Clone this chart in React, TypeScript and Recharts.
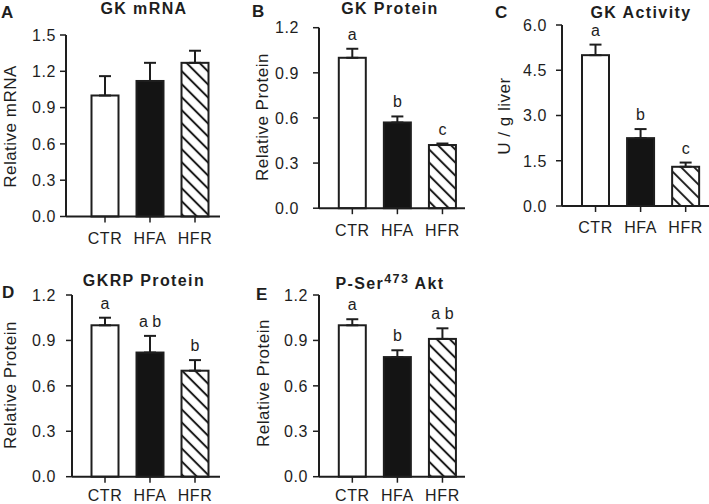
import React from "react";
import { BarChart, Bar, XAxis, YAxis, ErrorBar } from "recharts";

const categories = ["CTR", "HFA", "HFR"];

const gkMrna = [1.0, 1.12, 1.27];
const gkMrnaErr = [0.16, 0.15, 0.1];

const gkProtein = [1.0, 0.57, 0.42];
const gkProteinErr = [0.06, 0.04, 0.01];
const gkProteinLetters = ["a", "b", "c"];

const gkActivity = [5.0, 2.25, 1.3];
const gkActivityErr = [0.35, 0.3, 0.14];
const gkActivityLetters = ["a", "b", "c"];

const gkrpProtein = [1.0, 0.82, 0.7];
const gkrpProteinErr = [0.05, 0.11, 0.07];
const gkrpLetters = ["a", "a b", "b"];

const aktProtein = [1.0, 0.79, 0.91];
const aktProteinErr = [0.04, 0.045, 0.07];
const aktLetters = ["a", "b", "a b"];

const ticksA = [0, 0.3, 0.6, 0.9, 1.2, 1.5];
const ticksProtein = [0, 0.3, 0.6, 0.9, 1.2];
const ticksActivity = [0, 1.5, 3.0, 4.5, 6.0];

const FONT = "'Liberation Sans', Arial, Helvetica, sans-serif";
const INK = "#1e1e1e";
const W = 709;
const H = 504;
const FILLS = ["#ffffff", "#141414", "url(#hatch)"];

const tickText = {
  fontFamily: FONT,
  fontSize: 16,
  letterSpacing: 0.6,
  fill: INK,
} as const;

function XTick(props: any) {
  const { x, y, payload } = props;
  return (
    <text x={x} y={y} dy="0.71em" textAnchor="middle" style={tickText}>
      {payload.value}
    </text>
  );
}

function YTick(props: any) {
  const { x, y, payload } = props;
  return (
    <text x={x} y={y} dy="0.36em" textAnchor="end" style={tickText}>
      {Number(payload.value).toFixed(1)}
    </text>
  );
}

type PanelProps = {
  x0: number;
  x1: number;
  yTop: number;
  yBot: number;
  padL: number;
  padR: number;
  yTickMargin: number;
  xTickMargin: number;
  domain: [number, number];
  ticks: number[];
  values: number[];
  errs: number[];
  letters?: string[];
};

function Panel(p: PanelProps) {
  const data = categories.map((c, i) => ({
    cat: c,
    value: p.values[i],
    err: p.errs[i],
    errRange: [0, p.errs[i]],
    letter: p.letters ? p.letters[i] : "",
  }));
  const yAxisW = 40;
  const xAxisH = 30;
  const shape = (props: any) => {
    const { x, y, width, height, index, payload } = props;
    const v = payload.value;
    const errTopPx = y + height - ((v + payload.err) * height) / v;
    return (
      <g>
        <rect
          x={x}
          y={y}
          width={width}
          height={height}
          fill={FILLS[index]}
          stroke={INK}
          strokeWidth={2}
        />
        {payload.letter ? (
          <text
            x={x + width / 2}
            y={errTopPx - 9}
            textAnchor="middle"
            fontSize={16}
            fontFamily={FONT}
            fill={INK}
          >
            {payload.letter}
          </text>
        ) : null}
      </g>
    );
  };
  return (
    <div style={{ position: "absolute", left: 0, top: 0 }}>
      <BarChart
        width={W}
        height={H}
        data={data}
        margin={{
          top: p.yTop,
          left: p.x0 - yAxisW,
          right: W - p.x1,
          bottom: H - p.yBot - xAxisH,
        }}
        barCategoryGap={9}
      >
        <XAxis
          dataKey="cat"
          height={xAxisH}
          interval={0}
          padding={{ left: p.padL, right: p.padR }}
          tickSize={6}
          tickMargin={p.xTickMargin}
          axisLine={{ stroke: INK, strokeWidth: 2 }}
          tickLine={{ stroke: INK, strokeWidth: 1.5 }}
          tick={<XTick />}
        />
        <YAxis
          type="number"
          width={yAxisW}
          domain={p.domain}
          ticks={p.ticks}
          interval={0}
          tickSize={6}
          tickMargin={p.yTickMargin}
          axisLine={{ stroke: INK, strokeWidth: 2 }}
          tickLine={{ stroke: INK, strokeWidth: 1.5 }}
          tick={<YTick />}
        />
        <Bar dataKey="value" isAnimationActive={false} shape={shape}>
          <ErrorBar
            dataKey="errRange"
            direction="y"
            width={6}
            stroke={INK}
            strokeWidth={2}
          />
        </Bar>
      </BarChart>
    </div>
  );
}

const titleStyle = {
  fontFamily: FONT,
  fontWeight: 700,
  fontSize: 16,
  letterSpacing: 1.4,
  fill: INK,
} as const;

const panelLetterStyle = {
  fontFamily: FONT,
  fontWeight: 700,
  fontSize: 17,
  fill: INK,
} as const;

const yLabelStyle = {
  fontFamily: FONT,
  fontSize: 17,
  letterSpacing: 0.5,
  fill: INK,
} as const;

function YLabel({ x, y, text }: { x: number; y: number; text: string }) {
  return (
    <text
      x={x}
      y={y}
      transform={`rotate(-90 ${x} ${y})`}
      textAnchor="middle"
      style={yLabelStyle}
    >
      {text}
    </text>
  );
}

export default function App() {
  return (
    <div
      style={{
        position: "absolute",
        left: 0,
        top: 0,
        width: W,
        height: H,
        background: "#fff",
        overflow: "hidden",
      }}
    >
      <svg width={0} height={0} style={{ position: "absolute" }}>
        <defs>
          <pattern
            id="hatch"
            patternUnits="userSpaceOnUse"
            width={9.2}
            height={9.2}
            patternTransform="rotate(-45)"
          >
            <rect x={0} y={0} width={9.2} height={9.2} fill="#fff" />
            <line x1={4.6} y1={-1} x2={4.6} y2={10.2} stroke={INK} strokeWidth={2} />
          </pattern>
        </defs>
      </svg>

      <Panel
        x0={66}
        x1={220}
        yTop={35}
        yBot={216.5}
        padL={16.5}
        padR={2.5}
        yTickMargin={4}
        xTickMargin={10}
        domain={[0, 1.5]}
        ticks={ticksA}
        values={gkMrna}
        errs={gkMrnaErr}
      />
      <Panel
        x0={319}
        x1={465}
        yTop={27.7}
        yBot={208.2}
        padL={10.8}
        padR={0}
        yTickMargin={14}
        xTickMargin={10}
        domain={[0, 1.2]}
        ticks={ticksProtein}
        values={gkProtein}
        errs={gkProteinErr}
        letters={gkProteinLetters}
      />
      <Panel
        x0={562}
        x1={709}
        yTop={25}
        yBot={206}
        padL={11}
        padR={0.8}
        yTickMargin={9}
        xTickMargin={10}
        domain={[0, 6]}
        ticks={ticksActivity}
        values={gkActivity}
        errs={gkActivityErr}
        letters={gkActivityLetters}
      />
      <Panel
        x0={72}
        x1={220}
        yTop={295}
        yBot={476.7}
        padL={10.5}
        padR={2.5}
        yTickMargin={10}
        xTickMargin={6.5}
        domain={[0, 1.2]}
        ticks={ticksProtein}
        values={gkrpProtein}
        errs={gkrpProteinErr}
        letters={gkrpLetters}
      />
      <Panel
        x0={319}
        x1={465}
        yTop={295}
        yBot={476.7}
        padL={10.8}
        padR={0}
        yTickMargin={5}
        xTickMargin={6.5}
        domain={[0, 1.2]}
        ticks={ticksProtein}
        values={aktProtein}
        errs={aktProteinErr}
        letters={aktLetters}
      />

      <svg
        width={W}
        height={H}
        style={{ position: "absolute", left: 0, top: 0, pointerEvents: "none" }}
      >
        <text x={1} y={18} style={panelLetterStyle}>A</text>
        <text x={252} y={17} style={panelLetterStyle}>B</text>
        <text x={495} y={17.5} style={panelLetterStyle}>C</text>
        <text x={2} y={298} style={panelLetterStyle}>D</text>
        <text x={256} y={300} style={panelLetterStyle}>E</text>

        <text x={144} y={13.5} textAnchor="middle" style={titleStyle}>GK mRNA</text>
        <text x={390} y={13.5} textAnchor="middle" style={titleStyle}>GK Protein</text>
        <text x={641} y={18} textAnchor="middle" style={titleStyle}>GK Activity</text>
        <text x={144} y={286} textAnchor="middle" style={titleStyle}>GKRP Protein</text>
        <text x={390} y={289} textAnchor="middle" style={titleStyle}>
          P-Ser
          <tspan dy={-6} fontSize={12.5}>473</tspan>
          <tspan dy={6}> Akt</tspan>
        </text>

        <YLabel x={15.5} y={126.5} text="Relative mRNA" />
        <YLabel x={267.5} y={117} text="Relative Protein" />
        <YLabel x={509.5} y={116} text="U / g liver" />
        <YLabel x={15.5} y={385} text="Relative Protein" />
        <YLabel x={268.5} y={383} text="Relative Protein" />
      </svg>
    </div>
  );
}
